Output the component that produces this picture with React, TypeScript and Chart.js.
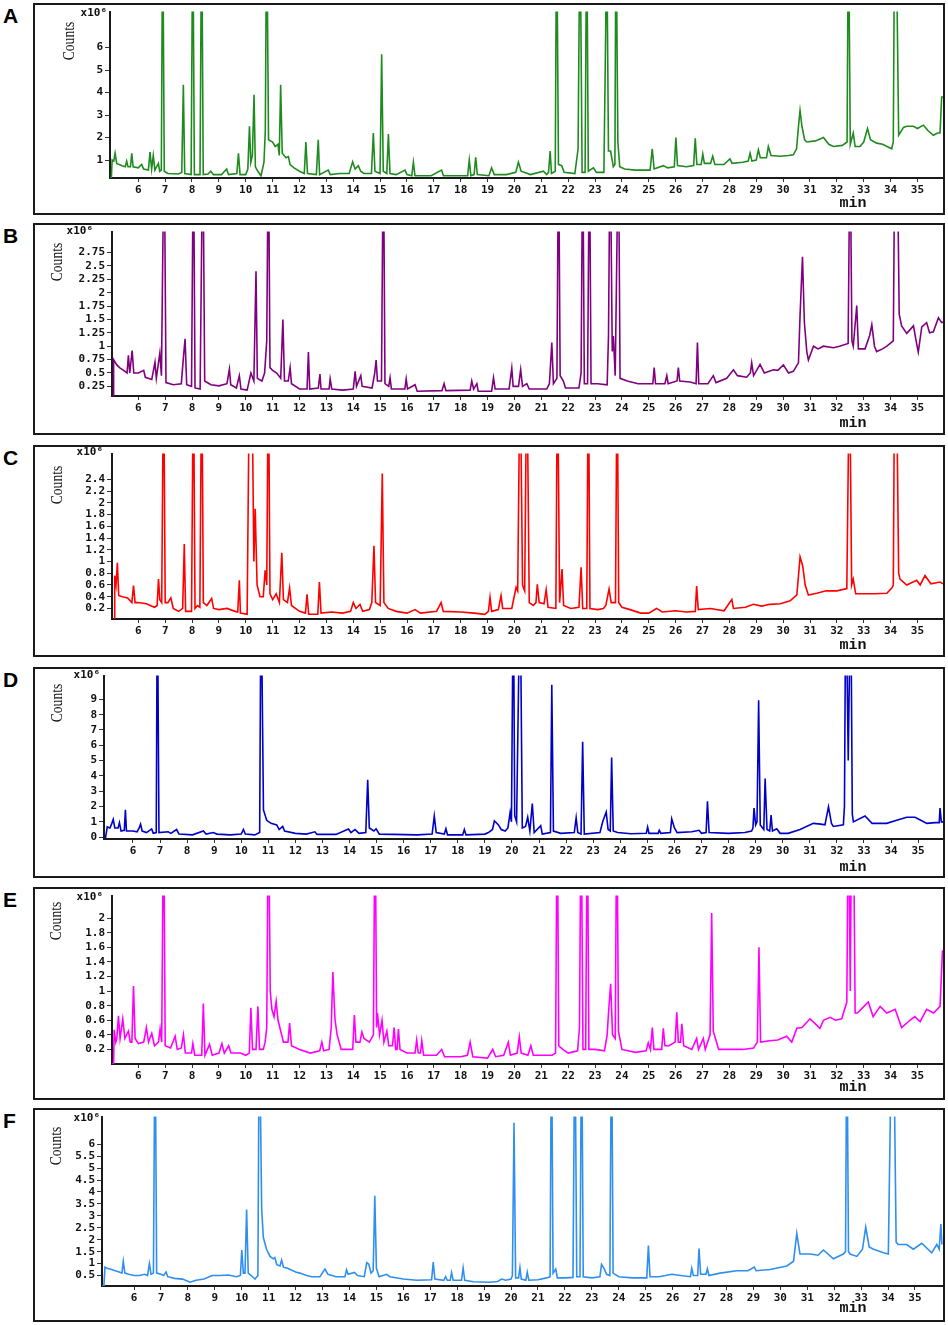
import { Chart, registerables } from 'chart.js';
import { useEffect, useRef } from 'react';

Chart.register(...registerables);

// retention time ticks (min)
const minuteTicks = [6, 7, 8, 9, 10, 11, 12, 13, 14, 15, 16, 17, 18, 19, 20, 21, 22, 23, 24, 25, 26, 27, 28, 29, 30, 31, 32, 33, 34, 35];

// counts ticks (x10^6) per trace
const countTicksA = [1, 2, 3, 4, 5, 6];
const countTicksB = [0.25, 0.5, 0.75, 1, 1.25, 1.5, 1.75, 2, 2.25, 2.5, 2.75];
const countTicksC = [0.2, 0.4, 0.6, 0.8, 1, 1.2, 1.4, 1.6, 1.8, 2, 2.2, 2.4];
const countTicksD = [0, 1, 2, 3, 4, 5, 6, 7, 8, 9];
const countTicksE = [0.2, 0.4, 0.6, 0.8, 1, 1.2, 1.4, 1.6, 1.8, 2];
const countTicksF = [0.5, 1, 1.5, 2, 2.5, 3, 3.5, 4, 4.5, 5, 5.5, 6];

// [time (min), counts x10^6]; the tallest peaks run off scale
const traceA: [number, number][] = [
  [4.95, 0.2], [5.0, 0.2], [5.03, 1.0], [5.09, 0.95], [5.14, 1.3], [5.2, 0.85], [5.4, 0.75], [5.52, 0.7], [5.57, 0.95], [5.62, 0.7],
  [5.71, 0.7], [5.76, 1.3], [5.81, 0.7], [6.0, 0.65], [6.13, 0.8], [6.2, 0.6], [6.38, 0.55], [6.44, 1.35], [6.5, 0.6], [6.56, 1.2],
  [6.62, 0.55], [6.75, 0.85], [6.8, 0.5], [6.86, 0.55], [6.91, 12], [6.97, 0.5], [7.1, 0.4], [7.5, 0.38], [7.62, 0.45], [7.68, 4.35],
  [7.73, 0.4], [7.97, 0.35], [8.03, 12], [8.09, 0.35], [8.3, 0.35], [8.36, 12], [8.42, 0.35], [8.6, 0.38], [8.7, 0.5], [8.8, 0.35],
  [9.1, 0.35], [9.29, 0.6], [9.36, 0.35], [9.67, 0.4], [9.73, 1.3], [9.79, 0.35], [10.0, 0.35], [10.08, 0.6], [10.14, 2.5], [10.19, 0.9],
  [10.25, 1.2], [10.31, 3.9], [10.36, 0.7], [10.45, 0.5], [10.57, 0.3], [10.68, 0.9], [10.73, 2.3], [10.78, 12], [10.85, 1.9], [11.0, 1.8],
  [11.1, 1.6], [11.2, 1.7], [11.25, 1.2], [11.3, 4.35], [11.36, 1.3], [11.5, 1.1], [11.59, 1.15], [11.65, 0.8], [11.8, 0.65], [12.0, 0.5],
  [12.18, 0.4], [12.24, 1.8], [12.3, 0.4], [12.63, 0.35], [12.7, 1.9], [12.75, 0.35], [13.07, 0.55], [13.15, 0.35], [13.5, 0.4], [13.85, 0.4],
  [13.98, 0.92], [14.07, 0.6], [14.19, 0.75], [14.28, 0.5], [14.4, 0.4], [14.68, 0.4], [14.75, 2.2], [14.81, 0.5], [15.0, 0.4], [15.06, 5.7],
  [15.12, 0.5], [15.25, 0.4], [15.31, 2.15], [15.37, 0.4], [15.6, 0.35], [15.93, 0.55], [16.0, 0.35], [16.18, 0.3], [16.24, 0.9], [16.3, 0.3],
  [16.9, 0.3], [17.29, 0.55], [17.36, 0.3], [18.0, 0.3], [18.26, 0.3], [18.32, 1.0], [18.38, 0.3], [18.5, 0.35], [18.56, 1.12], [18.62, 0.35],
  [19.05, 0.3], [19.15, 0.65], [19.25, 0.35], [19.7, 0.35], [20.05, 0.45], [20.15, 0.9], [20.25, 0.5], [20.6, 0.35], [21.08, 0.5], [21.2, 0.35],
  [21.27, 0.45], [21.33, 1.4], [21.38, 0.4], [21.52, 0.5], [21.57, 12], [21.64, 0.8], [21.76, 0.75], [21.85, 0.45], [22.25, 0.4], [22.37, 1.5],
  [22.44, 12], [22.52, 0.45], [22.63, 0.45], [22.69, 12], [22.75, 0.5], [22.94, 0.65], [23.05, 0.45], [23.33, 0.45], [23.4, 7.0], [23.43, 12],
  [23.5, 1.4], [23.58, 1.4], [23.68, 0.7], [23.74, 0.8], [23.78, 12], [23.85, 1.8], [23.92, 0.7], [24.1, 0.6], [24.5, 0.55], [25.05, 0.55],
  [25.13, 1.5], [25.2, 0.6], [25.54, 0.75], [25.7, 0.65], [25.95, 0.7], [26.01, 2.0], [26.07, 0.75], [26.4, 0.7], [26.67, 0.75], [26.73, 1.97],
  [26.79, 0.8], [26.95, 0.8], [27.01, 1.27], [27.07, 0.85], [27.3, 0.85], [27.38, 1.17], [27.46, 0.8], [27.8, 0.8], [28.02, 1.05], [28.1, 0.85],
  [28.5, 0.9], [28.7, 0.95], [28.77, 1.3], [28.84, 0.95], [29.0, 1.0], [29.08, 1.45], [29.15, 1.1], [29.38, 1.1], [29.45, 1.6], [29.55, 1.2],
  [29.89, 1.17], [30.2, 1.2], [30.38, 1.23], [30.5, 1.5], [30.58, 2.6], [30.63, 3.2], [30.7, 2.5], [30.8, 1.9], [30.88, 1.8], [31.2, 1.85],
  [31.5, 2.0], [31.7, 1.7], [31.87, 1.6], [32.2, 1.65], [32.38, 1.8], [32.43, 12], [32.5, 1.7], [32.61, 2.2], [32.68, 1.6], [32.86, 1.6],
  [33.0, 1.8], [33.14, 2.4], [33.25, 1.9], [33.48, 1.75], [33.7, 1.7], [34.04, 1.5], [34.1, 1.8], [34.15, 12], [34.2, 12], [34.3, 2.1],
  [34.48, 2.45], [34.6, 2.5], [34.85, 2.5], [35.0, 2.4], [35.22, 2.55], [35.4, 2.3], [35.59, 2.1], [35.75, 2.2], [35.84, 2.2], [35.9, 3.8], [35.95, 3.8],
];

const traceB: [number, number][] = [
  [5.02, 0.03], [5.06, 0.03], [5.08, 0.75], [5.2, 0.65], [5.3, 0.6], [5.45, 0.55], [5.58, 0.5], [5.63, 0.83], [5.68, 0.5], [5.77, 0.92],
  [5.83, 0.5], [6.0, 0.5], [6.2, 0.55], [6.26, 0.42], [6.5, 0.38], [6.62, 0.7], [6.67, 0.4], [6.8, 0.87], [6.86, 0.45], [6.96, 5],
  [7.03, 0.32], [7.3, 0.28], [7.6, 0.3], [7.68, 0.8], [7.74, 1.14], [7.8, 0.28], [7.98, 0.25], [8.05, 5], [8.11, 0.22], [8.3, 0.2],
  [8.4, 5], [8.47, 0.35], [8.7, 0.28], [9.0, 0.26], [9.3, 0.3], [9.39, 0.57], [9.44, 0.28], [9.65, 0.22], [9.76, 0.45], [9.82, 0.2],
  [10.05, 0.18], [10.19, 0.5], [10.3, 0.35], [10.38, 2.4], [10.43, 0.4], [10.6, 0.35], [10.7, 0.5], [10.78, 1.1], [10.84, 5], [10.9, 0.6],
  [11.0, 0.55], [11.15, 0.5], [11.3, 0.4], [11.38, 1.5], [11.44, 0.35], [11.58, 0.35], [11.65, 0.6], [11.7, 0.3], [12.0, 0.2], [12.28, 0.2],
  [12.33, 0.89], [12.38, 0.2], [12.7, 0.22], [12.76, 0.48], [12.8, 0.2], [13.1, 0.2], [13.14, 0.39], [13.2, 0.2], [13.6, 0.18], [14.0, 0.2],
  [14.07, 0.53], [14.12, 0.25], [14.28, 0.45], [14.33, 0.25], [14.7, 0.22], [14.8, 0.5], [14.85, 0.74], [14.9, 0.35], [15.05, 0.35], [15.12, 5],
  [15.18, 0.3], [15.32, 0.25], [15.37, 0.41], [15.42, 0.2], [15.92, 0.2], [15.97, 0.39], [16.02, 0.2], [16.3, 0.28], [16.38, 0.16], [17.3, 0.17],
  [17.38, 0.3], [17.45, 0.17], [18.35, 0.18], [18.41, 0.35], [18.48, 0.2], [18.6, 0.3], [18.65, 0.16], [19.15, 0.16], [19.22, 0.41], [19.28, 0.2],
  [19.8, 0.2], [19.9, 0.59], [19.95, 0.25], [20.15, 0.25], [20.23, 0.56], [20.3, 0.25], [20.46, 0.3], [20.55, 0.2], [21.2, 0.2], [21.3, 0.3],
  [21.39, 1.07], [21.45, 0.3], [21.58, 0.4], [21.64, 5], [21.7, 0.45], [21.82, 0.35], [21.9, 0.22], [22.4, 0.22], [22.48, 0.5], [22.54, 5],
  [22.6, 0.3], [22.72, 0.3], [22.79, 5], [22.85, 0.3], [23.1, 0.3], [23.45, 0.28], [23.5, 1.2], [23.56, 5], [23.64, 0.9], [23.68, 1.19],
  [23.75, 0.45], [23.87, 5], [23.93, 0.4], [24.2, 0.35], [24.6, 0.3], [24.9, 0.3], [25.15, 0.3], [25.2, 0.6], [25.25, 0.3], [25.6, 0.3],
  [25.67, 0.45], [25.72, 0.3], [26.05, 0.35], [26.1, 0.6], [26.15, 0.35], [26.54, 0.33], [26.76, 0.3], [26.81, 1.07], [26.86, 0.3], [27.2, 0.3],
  [27.4, 0.45], [27.5, 0.32], [27.9, 0.4], [28.15, 0.56], [28.3, 0.45], [28.64, 0.42], [28.78, 0.5], [28.83, 0.69], [28.9, 0.45], [29.14, 0.66],
  [29.3, 0.5], [29.64, 0.56], [29.8, 0.55], [30.01, 0.65], [30.2, 0.5], [30.38, 0.53], [30.57, 0.69], [30.63, 1.58], [30.72, 2.67], [30.79, 1.45],
  [30.88, 0.9], [30.94, 0.74], [31.13, 1.0], [31.3, 0.95], [31.5, 1.0], [31.87, 0.97], [32.1, 1.0], [32.42, 1.05], [32.49, 5], [32.56, 1.1],
  [32.61, 1.0], [32.74, 1.76], [32.8, 0.95], [33.05, 0.95], [33.22, 1.2], [33.3, 1.4], [33.4, 1.0], [33.48, 0.9], [33.7, 0.95], [33.86, 1.0],
  [34.1, 1.1], [34.16, 5], [34.24, 5], [34.32, 1.6], [34.41, 1.38], [34.6, 1.24], [34.85, 1.38], [34.95, 1.1], [35.03, 0.89], [35.16, 1.36],
  [35.34, 1.44], [35.45, 1.25], [35.59, 1.27], [35.78, 1.53], [35.9, 1.44], [35.95, 1.45],
];

const traceC: [number, number][] = [
  [5.02, 0.0], [5.1, 0.0], [5.12, 0.76], [5.17, 0.6], [5.22, 0.98], [5.27, 0.42], [5.4, 0.4], [5.6, 0.38], [5.76, 0.3], [5.82, 0.59],
  [5.88, 0.3], [6.0, 0.3], [6.3, 0.28], [6.6, 0.22], [6.7, 0.25], [6.75, 0.7], [6.8, 0.35], [6.87, 0.3], [6.94, 4.5], [7.0, 0.3],
  [7.1, 0.3], [7.21, 0.38], [7.3, 0.2], [7.5, 0.15], [7.65, 0.2], [7.71, 1.3], [7.76, 0.15], [7.98, 0.15], [8.05, 4.5], [8.11, 0.2],
  [8.2, 0.25], [8.29, 0.22], [8.36, 4.5], [8.42, 0.3], [8.55, 0.25], [8.73, 0.37], [8.8, 0.2], [9.0, 0.18], [9.3, 0.2], [9.6, 0.15],
  [9.7, 0.14], [9.76, 0.68], [9.8, 0.12], [10.05, 0.1], [10.14, 4.5], [10.22, 4.5], [10.3, 1.0], [10.35, 1.9], [10.42, 0.6], [10.53, 0.4],
  [10.65, 0.4], [10.72, 0.85], [10.78, 0.6], [10.84, 4.5], [10.9, 0.45], [11.0, 0.35], [11.13, 0.45], [11.25, 0.3], [11.34, 1.15], [11.4, 0.35],
  [11.55, 0.3], [11.63, 0.55], [11.7, 0.25], [12.0, 0.15], [12.22, 0.12], [12.28, 0.44], [12.34, 0.1], [12.68, 0.1], [12.74, 0.65], [12.8, 0.12],
  [13.2, 0.14], [13.6, 0.12], [13.9, 0.15], [14.0, 0.3], [14.1, 0.2], [14.25, 0.27], [14.35, 0.15], [14.6, 0.18], [14.69, 0.3], [14.77, 1.27],
  [14.83, 0.3], [15.0, 0.25], [15.08, 2.5], [15.14, 0.3], [15.3, 0.2], [15.6, 0.15], [16.0, 0.12], [16.3, 0.18], [16.5, 0.12], [17.1, 0.15],
  [17.27, 0.3], [17.35, 0.15], [18.0, 0.14], [18.5, 0.12], [18.9, 0.1], [19.03, 0.15], [19.09, 0.39], [19.15, 0.15], [19.4, 0.18], [19.5, 0.42],
  [19.56, 0.2], [19.9, 0.2], [20.06, 0.56], [20.12, 0.5], [20.21, 4.5], [20.3, 0.6], [20.38, 0.5], [20.46, 4.5], [20.55, 0.3], [20.7, 0.25],
  [20.8, 0.3], [20.85, 0.61], [20.92, 0.3], [21.1, 0.28], [21.18, 0.52], [21.25, 0.22], [21.54, 0.2], [21.6, 4.5], [21.68, 0.3], [21.77, 0.87],
  [21.83, 0.25], [22.1, 0.2], [22.4, 0.22], [22.48, 0.9], [22.54, 0.2], [22.69, 0.2], [22.75, 4.5], [22.81, 0.2], [23.1, 0.18], [23.31, 0.2],
  [23.4, 0.25], [23.52, 0.53], [23.6, 0.3], [23.76, 0.3], [23.82, 4.5], [23.88, 0.3], [24.0, 0.22], [24.3, 0.18], [24.7, 0.12], [25.0, 0.12],
  [25.29, 0.2], [25.5, 0.14], [26.0, 0.16], [26.4, 0.14], [26.73, 0.15], [26.78, 0.58], [26.84, 0.18], [27.3, 0.2], [27.8, 0.16], [28.09, 0.35],
  [28.15, 0.2], [28.6, 0.22], [28.89, 0.27], [29.2, 0.24], [29.51, 0.27], [29.9, 0.28], [30.26, 0.33], [30.51, 0.43], [30.63, 1.08], [30.73, 0.92],
  [30.82, 0.6], [30.94, 0.43], [31.25, 0.46], [31.6, 0.5], [32.0, 0.5], [32.37, 0.54], [32.47, 4.5], [32.55, 0.6], [32.61, 0.7], [32.7, 0.45],
  [33.0, 0.45], [33.4, 0.45], [33.86, 0.46], [34.05, 0.55], [34.1, 0.6], [34.15, 4.5], [34.21, 4.5], [34.3, 0.8], [34.35, 0.7], [34.6, 0.6],
  [34.97, 0.68], [35.1, 0.6], [35.28, 0.76], [35.5, 0.62], [35.84, 0.65], [35.95, 0.62],
];

const traceD: [number, number][] = [
  [4.93, 0], [4.99, 0], [5.05, 0.67], [5.15, 0.6], [5.22, 0.9], [5.27, 1.16], [5.33, 0.6], [5.45, 0.6], [5.5, 0.95], [5.56, 0.4],
  [5.68, 0.45], [5.72, 1.78], [5.76, 0.4], [6.0, 0.4], [6.15, 0.35], [6.23, 0.6], [6.28, 0.85], [6.34, 0.4], [6.5, 0.3], [6.69, 0.54],
  [6.75, 0.25], [6.86, 0.3], [6.9, 17], [6.96, 0.3], [7.3, 0.35], [7.4, 0.25], [7.61, 0.5], [7.7, 0.2], [8.2, 0.15], [8.6, 0.4],
  [8.7, 0.2], [8.97, 0.3], [9.1, 0.2], [9.6, 0.15], [10.0, 0.2], [10.08, 0.5], [10.15, 0.2], [10.5, 0.15], [10.68, 0.3], [10.73, 17],
  [10.82, 1.78], [10.94, 1.1], [11.1, 0.9], [11.31, 0.8], [11.4, 0.5], [11.53, 0.7], [11.6, 0.4], [12.0, 0.25], [12.4, 0.2], [12.72, 0.35],
  [12.8, 0.18], [13.5, 0.18], [13.96, 0.53], [14.05, 0.3], [14.2, 0.5], [14.35, 0.25], [14.6, 0.3], [14.67, 3.75], [14.73, 0.6], [14.9, 0.4],
  [14.98, 0.55], [15.1, 0.2], [15.6, 0.18], [16.5, 0.15], [17.05, 0.2], [17.13, 1.37], [17.2, 0.3], [17.5, 0.2], [17.56, 0.55], [17.62, 0.15],
  [18.18, 0.15], [18.24, 0.5], [18.3, 0.15], [19.0, 0.2], [19.13, 0.3], [19.28, 0.5], [19.35, 1.07], [19.5, 0.8], [19.6, 0.5], [19.75, 0.4],
  [19.85, 0.6], [19.93, 1.6], [19.98, 1.0], [20.05, 17], [20.1, 1.4], [20.17, 1.0], [20.3, 17], [20.38, 0.6], [20.5, 0.7], [20.58, 1.3],
  [20.66, 0.4], [20.75, 2.2], [20.82, 0.3], [21.06, 0.75], [21.12, 0.2], [21.42, 0.3], [21.47, 9.96], [21.53, 0.4], [21.8, 0.25], [22.3, 0.3],
  [22.37, 1.27], [22.43, 0.3], [22.55, 0.2], [22.61, 6.23], [22.67, 0.2], [23.25, 0.3], [23.35, 1.0], [23.48, 1.64], [23.55, 0.5], [23.63, 0.4],
  [23.68, 5.2], [23.74, 0.4], [23.9, 0.3], [24.4, 0.22], [24.96, 0.25], [25.01, 0.66], [25.06, 0.25], [25.4, 0.25], [25.44, 0.45], [25.5, 0.25],
  [25.85, 0.3], [25.9, 1.19], [26.0, 0.6], [26.1, 0.3], [26.64, 0.35], [26.91, 0.45], [27.0, 0.25], [27.17, 0.3], [27.22, 2.35], [27.28, 0.3],
  [28.0, 0.25], [28.6, 0.3], [28.85, 0.4], [28.9, 0.6], [28.94, 1.9], [29.0, 0.8], [29.05, 1.0], [29.11, 8.94], [29.17, 0.8], [29.3, 0.5],
  [29.35, 3.83], [29.42, 0.5], [29.52, 0.4], [29.57, 1.45], [29.62, 0.4], [29.78, 0.55], [29.9, 0.25], [30.2, 0.25], [30.64, 0.5], [31.13, 0.9],
  [31.4, 0.85], [31.56, 0.8], [31.69, 1.98], [31.8, 0.9], [31.87, 0.7], [32.24, 0.8], [32.28, 2.0], [32.33, 17], [32.42, 5.0], [32.51, 17],
  [32.57, 1.5], [32.61, 1.0], [33.04, 1.38], [33.3, 0.9], [33.84, 0.9], [34.21, 1.1], [34.58, 1.3], [34.89, 1.3], [35.1, 1.1], [35.32, 0.9],
  [35.63, 0.95], [35.78, 0.95], [35.81, 1.9], [35.86, 1.0], [35.92, 1.0],
];

const traceE: [number, number][] = [
  [5.02, 0.0], [5.08, 0.0], [5.1, 0.47], [5.16, 0.3], [5.2, 0.35], [5.26, 0.66], [5.32, 0.35], [5.42, 0.62], [5.5, 0.35], [5.63, 0.45],
  [5.7, 0.3], [5.76, 0.3], [5.82, 1.07], [5.88, 0.35], [6.0, 0.28], [6.2, 0.3], [6.3, 0.5], [6.38, 0.3], [6.5, 0.42], [6.6, 0.25],
  [6.75, 0.3], [6.81, 0.48], [6.87, 0.3], [6.94, 3.7], [7.0, 0.25], [7.2, 0.22], [7.37, 0.38], [7.45, 0.2], [7.6, 0.22], [7.68, 0.4],
  [7.75, 0.15], [7.98, 0.15], [8.03, 0.28], [8.1, 0.12], [8.36, 0.12], [8.42, 0.83], [8.48, 0.12], [8.65, 0.27], [8.75, 0.12], [9.0, 0.15],
  [9.11, 0.28], [9.2, 0.15], [9.36, 0.25], [9.45, 0.15], [9.8, 0.15], [10.0, 0.12], [10.13, 0.15], [10.19, 0.77], [10.25, 0.2], [10.38, 0.2],
  [10.45, 0.79], [10.51, 0.2], [10.65, 0.2], [10.72, 0.3], [10.78, 0.5], [10.84, 3.7], [10.91, 1.0], [10.97, 0.75], [11.05, 0.65], [11.13, 0.86],
  [11.2, 0.6], [11.4, 0.3], [11.57, 0.3], [11.63, 0.56], [11.7, 0.25], [12.0, 0.2], [12.4, 0.15], [12.75, 0.18], [12.83, 0.3], [12.9, 0.18],
  [13.1, 0.2], [13.18, 0.5], [13.24, 1.26], [13.32, 0.61], [13.4, 0.4], [13.55, 0.2], [13.98, 0.2], [14.04, 0.67], [14.1, 0.3], [14.25, 0.3],
  [14.32, 0.44], [14.4, 0.35], [14.6, 0.3], [14.75, 0.4], [14.81, 3.7], [14.87, 0.5], [14.9, 0.7], [14.98, 0.4], [15.07, 0.6], [15.14, 0.3],
  [15.25, 0.45], [15.32, 0.25], [15.46, 0.25], [15.52, 0.5], [15.58, 0.2], [15.63, 0.2], [15.68, 0.48], [15.74, 0.2], [16.0, 0.15], [16.3, 0.15],
  [16.36, 0.33], [16.42, 0.15], [16.5, 0.15], [16.55, 0.32], [16.62, 0.12], [17.1, 0.12], [17.29, 0.2], [17.4, 0.1], [18.0, 0.1], [18.25, 0.12],
  [18.35, 0.3], [18.45, 0.1], [19.0, 0.08], [19.19, 0.2], [19.3, 0.1], [19.6, 0.12], [19.77, 0.3], [19.85, 0.12], [20.1, 0.15], [20.18, 0.37],
  [20.25, 0.15], [20.5, 0.12], [20.61, 0.25], [20.7, 0.12], [21.4, 0.12], [21.53, 0.15], [21.59, 3.7], [21.65, 0.25], [21.8, 0.2], [22.0, 0.15],
  [22.35, 0.18], [22.42, 0.5], [22.48, 3.7], [22.55, 0.2], [22.65, 0.2], [22.71, 3.7], [22.77, 0.2], [23.0, 0.2], [23.35, 0.18], [23.45, 0.4],
  [23.5, 0.7], [23.58, 1.1], [23.65, 0.4], [23.75, 0.35], [23.81, 3.7], [23.87, 0.45], [24.0, 0.2], [24.5, 0.16], [24.9, 0.18], [24.98, 0.29],
  [25.06, 0.2], [25.13, 0.5], [25.19, 0.2], [25.48, 0.2], [25.54, 0.49], [25.6, 0.25], [25.75, 0.25], [25.98, 0.3], [26.04, 0.71], [26.1, 0.3],
  [26.18, 0.3], [26.23, 0.55], [26.3, 0.25], [26.6, 0.2], [26.78, 0.35], [26.85, 0.2], [27.03, 0.35], [27.1, 0.2], [27.28, 0.4], [27.34, 2.07],
  [27.4, 0.45], [27.6, 0.2], [28.0, 0.2], [28.5, 0.2], [28.9, 0.22], [29.04, 0.3], [29.1, 1.6], [29.16, 0.3], [29.5, 0.32], [29.8, 0.33],
  [30.13, 0.38], [30.32, 0.3], [30.51, 0.49], [30.7, 0.5], [31.0, 0.62], [31.2, 0.55], [31.37, 0.49], [31.5, 0.6], [31.75, 0.64], [31.95, 0.6],
  [32.18, 0.62], [32.37, 0.85], [32.43, 3.7], [32.5, 1.0], [32.55, 3.7], [32.61, 3.7], [32.68, 0.7], [32.76, 0.7], [32.9, 0.75], [33.17, 0.85],
  [33.35, 0.65], [33.61, 0.79], [33.86, 0.7], [34.17, 0.75], [34.41, 0.5], [34.72, 0.6], [34.9, 0.65], [35.1, 0.58], [35.34, 0.75], [35.6, 0.7],
  [35.84, 0.79], [35.93, 1.55], [35.95, 1.55],
];

const traceF: [number, number][] = [
  [4.81, 0.06], [4.88, 0.06], [4.92, 0.85], [5.0, 0.8], [5.17, 0.75], [5.3, 0.7], [5.45, 0.65], [5.55, 0.6], [5.6, 1.1], [5.66, 0.6],
  [5.8, 0.55], [6.0, 0.5], [6.2, 0.5], [6.4, 0.55], [6.5, 0.5], [6.57, 1.0], [6.63, 0.55], [6.72, 0.6], [6.78, 11.5], [6.84, 0.6],
  [7.0, 0.55], [7.1, 0.5], [7.19, 0.65], [7.25, 0.45], [7.5, 0.38], [7.8, 0.35], [8.08, 0.22], [8.3, 0.3], [8.6, 0.35], [8.9, 0.5],
  [9.2, 0.5], [9.5, 0.52], [9.8, 0.45], [9.95, 0.5], [10.0, 1.57], [10.06, 0.6], [10.12, 0.6], [10.18, 3.27], [10.24, 0.6], [10.35, 0.5],
  [10.49, 0.35], [10.6, 0.5], [10.65, 11.5], [10.74, 3.3], [10.8, 2.1], [10.92, 1.6], [11.05, 1.3], [11.17, 1.2], [11.23, 1.25], [11.3, 0.95],
  [11.42, 0.9], [11.48, 1.15], [11.55, 0.85], [11.7, 0.8], [12.0, 0.65], [12.16, 0.6], [12.41, 0.5], [12.6, 0.45], [12.9, 0.45], [13.09, 0.77],
  [13.2, 0.55], [13.5, 0.45], [13.83, 0.45], [13.89, 0.74], [13.95, 0.55], [14.18, 0.63], [14.3, 0.5], [14.55, 0.45], [14.64, 1.04], [14.72, 0.97],
  [14.8, 0.6], [14.88, 0.7], [14.94, 3.84], [15.0, 0.8], [15.1, 0.45], [15.38, 0.55], [15.5, 0.45], [16.0, 0.35], [16.5, 0.3], [17.05, 0.32],
  [17.11, 1.06], [17.17, 0.35], [17.5, 0.3], [17.57, 0.45], [17.63, 0.3], [17.74, 0.3], [17.79, 0.62], [17.85, 0.3], [18.16, 0.3], [18.22, 0.82],
  [18.28, 0.3], [18.6, 0.24], [19.2, 0.22], [19.5, 0.25], [19.65, 0.35], [19.8, 0.3], [20.0, 0.35], [20.05, 0.5], [20.11, 6.9], [20.17, 0.4],
  [20.28, 0.4], [20.33, 0.83], [20.38, 0.35], [20.55, 0.3], [20.6, 0.64], [20.66, 0.3], [21.0, 0.32], [21.32, 0.4], [21.45, 0.45], [21.5, 11.5],
  [21.56, 0.6], [21.66, 0.77], [21.72, 0.4], [22.0, 0.4], [22.3, 0.42], [22.37, 11.5], [22.44, 0.45], [22.56, 0.45], [22.62, 11.5], [22.68, 0.45],
  [23.0, 0.4], [23.3, 0.45], [23.36, 0.97], [23.45, 0.8], [23.55, 0.55], [23.67, 0.5], [23.73, 11.5], [23.79, 0.6], [24.0, 0.45], [24.5, 0.4],
  [25.04, 0.4], [25.1, 1.76], [25.16, 0.45], [25.5, 0.45], [25.97, 0.55], [26.3, 0.5], [26.66, 0.45], [26.71, 0.8], [26.77, 0.5], [26.93, 0.5],
  [26.98, 1.63], [27.04, 0.55], [27.24, 0.55], [27.29, 0.78], [27.35, 0.5], [27.76, 0.6], [28.38, 0.7], [28.8, 0.7], [29.03, 0.85], [29.1, 0.7],
  [29.62, 0.75], [30.24, 0.9], [30.49, 1.1], [30.61, 2.26], [30.73, 1.4], [31.1, 1.4], [31.4, 1.35], [31.6, 1.57], [31.97, 1.2], [32.34, 1.4],
  [32.42, 1.5], [32.47, 11.5], [32.53, 1.5], [32.59, 1.4], [32.84, 1.3], [33.05, 1.6], [33.17, 2.53], [33.3, 1.7], [33.46, 1.6], [33.83, 1.45],
  [34.01, 1.4], [34.14, 11.5], [34.2, 11.5], [34.3, 1.9], [34.38, 1.8], [34.69, 1.8], [34.94, 1.6], [35.25, 1.85], [35.62, 1.45], [35.81, 1.8],
  [35.9, 1.6], [35.96, 2.66], [36.0, 1.8],
];

interface PanelConfig {
  letter: string;
  trace: [number, number][];
  yTicks: number[];
  color: string;
  top: number;
  height: number;
  plotLeft: number;
  plotBottom: number;
  xMin: number;
  xMax: number;
  yMin: number;
  yMax: number;
  countsPos: [number, number];
  expPos: [number, number];
}

const panels: PanelConfig[] = [
  { letter: 'A', trace: traceA, yTicks: countTicksA, color: '#1f8b1f', top: 3, height: 212, plotLeft: 77, plotBottom: 175, xMin: 4.95, xMax: 35.95, yMin: 0.2, yMax: 7.6, countsPos: [37, 38], expPos: [74, 10] },
  { letter: 'B', trace: traceB, yTicks: countTicksB, color: '#800080', top: 223, height: 212, plotLeft: 79, plotBottom: 173, xMin: 5.02, xMax: 35.95, yMin: 0.07, yMax: 3.14, countsPos: [25, 39], expPos: [60, 8] },
  { letter: 'C', trace: traceC, yTicks: countTicksC, color: '#ff0000', top: 445, height: 212, plotLeft: 79, plotBottom: 174, xMin: 5.02, xMax: 35.95, yMin: 0.02, yMax: 2.84, countsPos: [25, 40], expPos: [70, 7] },
  { letter: 'D', trace: traceD, yTicks: countTicksD, color: '#0000c8', top: 667, height: 211, plotLeft: 71, plotBottom: 172, xMin: 4.93, xMax: 35.92, yMin: -0.12, yMax: 10.55, countsPos: [25, 36], expPos: [67, 8] },
  { letter: 'E', trace: traceE, yTicks: countTicksE, color: '#ff00ff', top: 887, height: 213, plotLeft: 79, plotBottom: 177, xMin: 5.02, xMax: 35.95, yMin: 0.0, yMax: 2.31, countsPos: [24, 34], expPos: [70, 10] },
  { letter: 'F', trace: traceF, yTicks: countTicksF, color: '#2f8ff0', top: 1108, height: 214, plotLeft: 69, plotBottom: 178, xMin: 4.81, xMax: 36.04, yMin: 0.06, yMax: 7.16, countsPos: [24, 38], expPos: [67, 10] },
];

const FRAME_LEFT = 33;
const FRAME_WIDTH = 912;
const tickFont = { family: "'DejaVu Sans Mono', monospace", size: 11, weight: 'bold' as const };

function Panel({ cfg }: { cfg: PanelConfig }) {
  const canvasRef = useRef<HTMLCanvasElement>(null);

  useEffect(() => {
    const ctx = canvasRef.current?.getContext('2d');
    if (!ctx) return undefined;

    const decor = {
      id: 'decor',
      afterDraw(chart: Chart) {
        const c = chart.ctx;
        const w = chart.width;
        const h = chart.height;
        c.save();
        c.strokeStyle = '#1a1a1a';
        c.lineWidth = 2;
        c.strokeRect(1, 1, w - 2, h - 2);

        c.fillStyle = '#111';
        c.font = "16px 'Liberation Serif', serif";
        c.textAlign = 'center';
        c.textBaseline = 'middle';
        c.save();
        c.translate(cfg.countsPos[0], cfg.countsPos[1]);
        c.rotate(-Math.PI / 2);
        c.scale(0.85, 1);
        c.fillText('Counts', 0, 0);
        c.restore();

        c.font = "bold 11px 'DejaVu Sans Mono', monospace";
        c.textAlign = 'right';
        c.fillText('x10\u2076', cfg.expPos[0], cfg.expPos[1]);

        c.font = "bold 15px 'Liberation Mono', monospace";
        c.textAlign = 'center';
        c.fillText('min', 820, 200);
        c.restore();
      },
    };

    const chart = new Chart(ctx, {
      type: 'line',
      data: {
        datasets: [
          {
            data: cfg.trace.map(([x, y]) => ({ x, y })),
            borderColor: cfg.color,
            borderWidth: 1.6,
            pointRadius: 0,
            tension: 0,
            fill: false,
          },
        ],
      },
      options: {
        animation: false,
        responsive: true,
        maintainAspectRatio: false,
        events: [],
        layout: { padding: { top: 1, right: 2, left: 0, bottom: 0 } },
        plugins: { legend: { display: false }, tooltip: { enabled: false } },
        scales: {
          x: {
            type: 'linear',
            min: cfg.xMin,
            max: cfg.xMax,
            afterBuildTicks: (axis) => {
              axis.ticks = minuteTicks.map((value) => ({ value }));
            },
            afterFit: (scale) => {
              scale.height = cfg.height - cfg.plotBottom;
            },
            border: { display: true, color: '#1a1a1a', width: 2 },
            grid: { display: true, drawOnChartArea: false, drawTicks: true, tickLength: 4, color: '#333', lineWidth: 1 },
            ticks: {
              autoSkip: false,
              maxRotation: 0,
              padding: 2,
              color: '#111',
              font: tickFont,
              callback: (v) => String(v),
            },
          },
          y: {
            type: 'linear',
            min: cfg.yMin,
            max: cfg.yMax,
            afterBuildTicks: (axis) => {
              axis.ticks = cfg.yTicks.map((value) => ({ value }));
            },
            afterFit: (scale) => {
              scale.width = cfg.plotLeft;
            },
            border: { display: true, color: '#1a1a1a', width: 2 },
            grid: { display: true, drawOnChartArea: false, drawTicks: true, tickLength: 5, color: '#333', lineWidth: 1 },
            ticks: {
              autoSkip: false,
              padding: 2,
              color: '#111',
              font: tickFont,
              callback: (v) => String(v),
            },
          },
        },
      },
      plugins: [decor],
    });

    return () => {
      chart.destroy();
    };
  }, [cfg]);

  return (
    <>
      <div
        style={{
          position: 'absolute',
          left: 3,
          top: cfg.top + 1,
          fontFamily: "'Liberation Sans', Arial, sans-serif",
          fontWeight: 'bold',
          fontSize: 21,
          lineHeight: '24px',
          color: '#000',
        }}
      >
        {cfg.letter}
      </div>
      <div style={{ position: 'absolute', left: FRAME_LEFT, top: cfg.top, width: FRAME_WIDTH, height: cfg.height }}>
        <canvas ref={canvasRef}></canvas>
      </div>
    </>
  );
}

export default function App() {
  return (
    <div style={{ position: 'absolute', left: 0, top: 0, width: 948, height: 1325, background: '#fff' }}>
      {panels.map((p) => (
        <Panel key={p.letter} cfg={p} />
      ))}
    </div>
  );
}
